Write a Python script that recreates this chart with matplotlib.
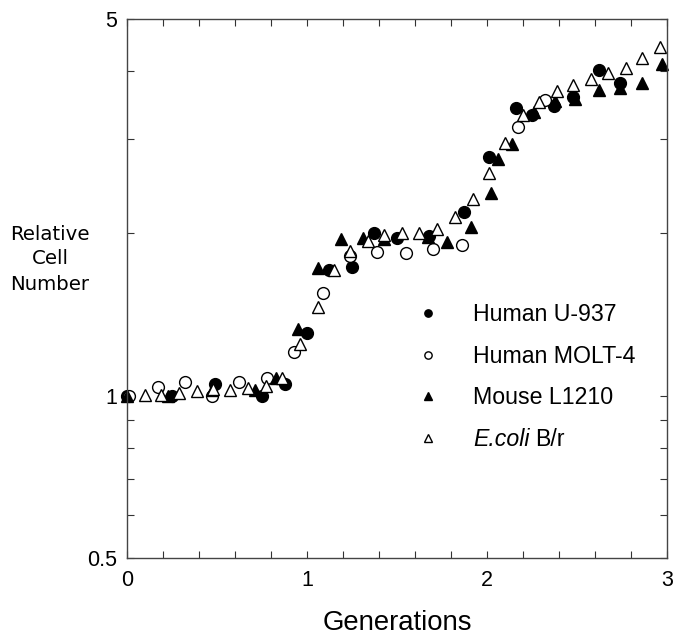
import matplotlib
matplotlib.use("Agg")
import matplotlib.pyplot as plt

plt.rcParams['font.family'] = ['Liberation Sans', 'DejaVu Sans']

# ---- data (generations, relative cell number) ----
u937_x = [0.0, 0.25, 0.49, 0.75, 0.88, 1.0, 1.12, 1.25, 1.37, 1.5, 1.68, 1.87, 2.01,
          2.16, 2.25, 2.37, 2.48, 2.62, 2.74]
u937_y = [1.0, 1.0, 1.05, 1.0, 1.05, 1.31, 1.71, 1.73, 2.0, 1.96, 1.98, 2.19, 2.77,
          3.42, 3.32, 3.45, 3.58, 4.02, 3.80]

molt4_x = [0.01, 0.17, 0.32, 0.47, 0.62, 0.78, 0.93, 1.09, 1.24, 1.39, 1.55, 1.70,
           1.86, 2.17, 2.32]
molt4_y = [1.0, 1.04, 1.06, 1.0, 1.06, 1.08, 1.205, 1.55, 1.82, 1.85, 1.84, 1.87,
           1.90, 3.15, 3.54]

l1210_x = [0.0, 0.23, 0.47, 0.71, 0.83, 0.95, 1.06, 1.19, 1.31, 1.43, 1.67, 1.78,
           1.91, 2.02, 2.06, 2.14, 2.26, 2.38, 2.49, 2.62, 2.74, 2.86, 2.97]
l1210_y = [1.0, 1.0, 1.025, 1.025, 1.08, 1.33, 1.725, 1.95, 1.96, 1.955, 1.97, 1.93,
           2.06, 2.38, 2.75, 2.93, 3.36, 3.52, 3.55, 3.69, 3.73, 3.80, 4.12]

ecoli_x = [0.10, 0.19, 0.29, 0.39, 0.48, 0.57, 0.67, 0.77, 0.86, 0.96, 1.06, 1.15,
           1.24, 1.34, 1.43, 1.53, 1.62, 1.72, 1.82, 1.92, 2.01, 2.10, 2.20, 2.29,
           2.39, 2.48, 2.58, 2.67, 2.77, 2.86, 2.96]
ecoli_y = [1.003, 1.003, 1.012, 1.02, 1.03, 1.025, 1.034, 1.043, 1.079, 1.25, 1.46,
           1.71, 1.856, 1.94, 1.99, 2.0, 2.0, 2.04, 2.15, 2.32, 2.59, 2.94, 3.32, 3.51,
           3.68, 3.77, 3.87, 3.97, 4.06, 4.23, 4.44]

labels = ["Human U-937", "Human MOLT-4", "Mouse L1210", "E.coli"]
ecoli_suffix = "B/r"
y_major = [0.5, 1, 5]
y_major_labels = ["0.5", "1", "5"]
y_minor = [0.6, 0.7, 0.8, 0.9, 2, 3, 4]
x_major = [0, 1, 2, 3]
x_minor = [0.2, 0.4, 0.6, 0.8, 1.2, 1.4, 1.6, 1.8, 2.2, 2.4, 2.6, 2.8]

fig = plt.figure(figsize=(6.73, 6.35), dpi=100)
ax = fig.add_axes([127/673, 77/635, 540/673, 539/635])

ms = 8.5
series = [
    (u937_x, u937_y, 'o', 'black'),
    (molt4_x, molt4_y, 'o', 'white'),
    (l1210_x, l1210_y, '^', 'black'),
    (ecoli_x, ecoli_y, '^', 'white'),
]
for (xs, ys, m, fc), lab in zip(series, labels):
    ax.plot(xs, ys, linestyle='none', marker=m, markersize=ms, markerfacecolor=fc,
            markeredgecolor='black', markeredgewidth=1.0, label=lab, clip_on=False)

ax.set_yscale('log')
ax.set_xlim(0, 3)
ax.set_ylim(0.5, 5)
ax.set_yticks(y_major)
ax.set_yticklabels(y_major_labels)
ax.set_yticks(y_minor, minor=True)
ax.yaxis.set_minor_formatter(matplotlib.ticker.NullFormatter())
ax.set_xticks(x_major)
ax.set_xticklabels([str(v) for v in x_major])
ax.set_xticks(x_minor, minor=True)

ax.tick_params(which='both', direction='in', top=True, right=True, width=0.8,
               color='#333333', length=5)
ax.tick_params(axis='y', which='major', labelsize=15.5, pad=7)
ax.tick_params(axis='x', which='major', labelsize=15.5, pad=9)
for s in ax.spines.values():
    s.set_linewidth(1.0)
    s.set_color('#444444')

ax.set_xlabel("Generations", fontsize=19.8, labelpad=13)
fig.text(50/673, 1 - 259/635, "Relative\nCell\nNumber", ha='center', va='center',
         multialignment='center', fontsize=14.2, family=['DejaVu Sans'], linespacing=1.4)

handles, labs = ax.get_legend_handles_labels()
leg = ax.legend(handles, labs, loc='center left',
                bbox_to_anchor=(416/673, 1 - 377/635), bbox_transform=fig.transFigure,
                frameon=False, fontsize=16.7, markerscale=0.62, handlelength=1.0,
                handletextpad=1.45, labelspacing=0.8, borderpad=0, borderaxespad=0)
etxt = leg.get_texts()[3]
etxt.set_fontstyle('italic')

# place the upright "B/r" right after the italic "E.coli"
fig.canvas.draw()
bb = etxt.get_window_extent()
fx, fy = fig.transFigure.inverted().transform((bb.x1 + 6, bb.y0))
fig.text(fx, fy, ecoli_suffix, ha='left', va='bottom', fontsize=16.7)

fig.savefig("out.png", dpi=100)
